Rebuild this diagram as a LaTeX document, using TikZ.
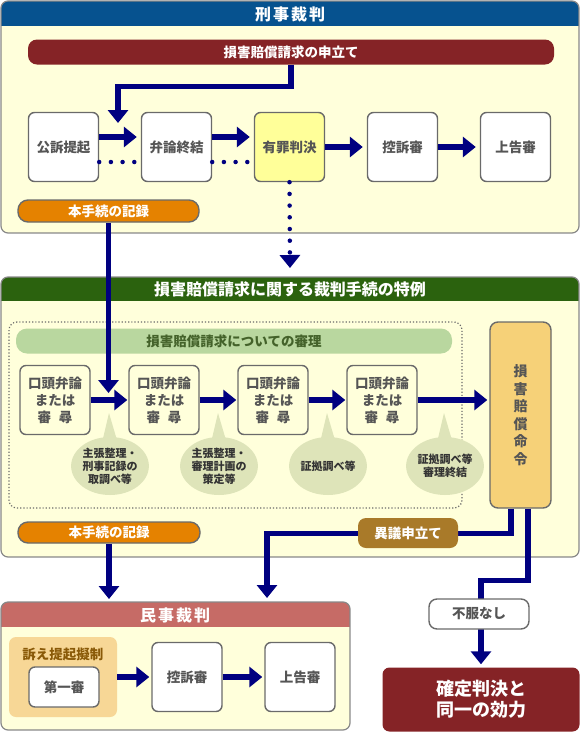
\documentclass[tikz,border=0pt]{standalone}
\usepackage{fontspec}
\setmainfont{Noto Sans CJK JP}
\usepackage{xcolor}
\usetikzlibrary{arrows.meta,positioning,shapes.geometric,calc}

\definecolor{keijiblue}{HTML}{06528F}
\definecolor{claimred}{HTML}{852326}
\definecolor{recordorange}{HTML}{E58200}
\definecolor{tokureigreen}{HTML}{2B620E}
\definecolor{shinrigreen}{HTML}{B9D79F}
\definecolor{shinritext}{HTML}{44622A}
\definecolor{panelyellow}{HTML}{FFFFDB}
\definecolor{verdictyellow}{HTML}{FFFF99}
\definecolor{orderbox}{HTML}{F6D178}
\definecolor{bubblefill}{HTML}{DEE4B9}
\definecolor{igibrown}{HTML}{A97A29}
\definecolor{minjired}{HTML}{C66B66}
\definecolor{giseifill}{HTML}{F7D796}
\definecolor{giseitext}{HTML}{8A5A08}
\definecolor{flownavy}{HTML}{000080}
\definecolor{boxgray}{HTML}{6A6A6A}
\definecolor{textgray}{HTML}{555555}

\begin{document}
\begin{tikzpicture}[x=1pt,y=-1pt,
  font=\bfseries\fontsize{13.5}{16}\selectfont,
  stage/.style={draw=boxgray,line width=1.4pt,rounded corners=6pt,fill=white,
    minimum width=70pt,minimum height=69pt,inner sep=0pt,text=textgray},
  hearing/.style={stage,fill=panelyellow,align=center,
    font=\bfseries\fontsize{13.5}{17}\selectfont},
  pill/.style={rounded corners=9pt,text=white,inner sep=0pt},
  header/.style={text=white,font=\bfseries\fontsize{16}{18}\selectfont},
  flow/.style={draw=flownavy,line width=5.5pt,-{Triangle[length=13pt,width=20pt]}},
  dots/.style={draw=flownavy,line width=4.5pt,line cap=round,dash pattern=on 0pt off 11.7pt},
  bubble/.style={ellipse,fill=bubblefill,minimum width=77pt,minimum height=58pt,
    inner sep=0pt,align=center,text=black!80,font=\bfseries\fontsize{11}{13}\selectfont},
  panelline/.style={draw=boxgray!80,line width=1.2pt,rounded corners=7pt}]

  \useasboundingbox (0,0) rectangle (580,732);

  % panels
  \begin{scope}
    \clip[rounded corners=7pt] (1,1) rectangle (579,233);
    \fill[panelyellow] (1,1) rectangle (579,233);
    \fill[keijiblue] (1,1) rectangle (579,26);
  \end{scope}
  \draw[panelline] (1,1) rectangle (579,233);
  \begin{scope}
    \clip[rounded corners=7pt] (1,277) rectangle (579,557);
    \fill[panelyellow] (1,277) rectangle (579,557);
    \fill[tokureigreen] (1,277) rectangle (579,301);
  \end{scope}
  \draw[panelline] (1,277) rectangle (579,557);
  \begin{scope}
    \clip[rounded corners=7pt] (1,602) rectangle (350,730);
    \fill[panelyellow] (1,602) rectangle (350,730);
    \fill[minjired] (1,602) rectangle (350,627);
  \end{scope}
  \draw[panelline] (1,602) rectangle (350,730);

  \node[header] (keiji) at (290,14) {刑\hspace{2pt}事\hspace{2pt}裁\hspace{2pt}判};
  \node[header] (tokurei) at (290,289) {損害賠償請求に関する裁判手続の特例};
  \node[header] (minji) at (175,615) {民\hspace{2pt}事\hspace{2pt}裁\hspace{2pt}判};

  % criminal trial
  \node[pill,fill=claimred,minimum width=526pt,minimum height=25pt] (claim) at (291,52) {損害賠償請求の申立て};
  \node[stage] (teiki) at (63.5,147) {公訴提起};
  \node[stage,right=41.6pt of teiki] (benron) {弁論終結};
  \node[stage,fill=verdictyellow,right=41.6pt of benron] (yuzai) {有罪判決};
  \node[stage,right=41.6pt of yuzai] (kouso) {控訴審};
  \node[stage,right=41.6pt of kouso] (joukoku) {上告審};
  \node[pill,draw=boxgray,line width=1.4pt,fill=recordorange,rounded corners=10pt,
    minimum width=181pt,minimum height=22pt] (kiroku1) at (108.5,211) {本手続の記録};

  % special procedure
  \draw[draw=boxgray,line width=1.2pt,dotted,rounded corners=8pt] (9,322) rectangle (462,508);
  \node[pill,fill=shinrigreen,text=shinritext,rounded corners=11pt,
    minimum width=436pt,minimum height=25pt] (shinri) at (234,341) {損害賠償請求についての審理};
  \node[hearing] (k1) at (55,400) {口頭弁論\\または\\審\hspace{8pt}尋};
  \node[hearing,right=37.6pt of k1] (k2) {口頭弁論\\または\\審\hspace{8pt}尋};
  \node[hearing,right=37.6pt of k2] (k3) {口頭弁論\\または\\審\hspace{8pt}尋};
  \node[hearing,right=37.6pt of k3] (k4) {口頭弁論\\または\\審\hspace{8pt}尋};
  \node[draw=boxgray,line width=1.4pt,rounded corners=8pt,fill=orderbox,text=textgray,
    minimum width=61pt,minimum height=186pt,align=center,
    font=\bfseries\fontsize{14}{17.5}\selectfont] (meirei) at (520.5,415) {損\\害\\賠\\償\\命\\令};

  % bubbles with tails
  \foreach \bx/\tx in {110/109,219/218,328/327,445/444}
    \fill[bubblefill] (\bx-9,447) -- (\tx,413) -- (\bx+9,447) -- cycle;
  \node[bubble] (b1) at (110,466) {主張整理・\\刑事記録の\\取調べ等};
  \node[bubble] (b2) at (219,466) {主張整理・\\審理計画の\\策定等};
  \node[bubble] (b3) at (328,466) {証拠調べ等};
  \node[bubble] (b4) at (445,466) {証拠調べ等\\審理終結};

  \node[pill,draw=boxgray,line width=1.4pt,fill=recordorange,rounded corners=10pt,
    minimum width=182pt,minimum height=21pt] (kiroku2) at (109,532.5) {本手続の記録};

  % civil trial
  \node[fill=giseifill,rounded corners=7pt,minimum width=108pt,minimum height=80pt] (gisei) at (63,677) {};
  \node[text=giseitext] (giseilabel) at (63,654) {訴え提起擬制};
  \node[stage,minimum height=40pt] (daiichi) at (64,687) {第一審};
  \node[stage] (kouso2) at (187,677) {控訴審};
  \node[stage,right=41.6pt of kouso2] (joukoku2) {上告審};

  \node[fill=claimred,rounded corners=7pt,text=white,align=center,inner sep=0pt,
    minimum width=197pt,minimum height=64pt,
    font=\bfseries\fontsize{18}{21}\selectfont] (kakutei) at (481,699.5) {確定判決と\\同一の効力};

  % free ends
  \coordinate (t1) at (118,123);
  \coordinate (t2) at (108.5,393);
  \coordinate (t3) at (267,598);
  \coordinate (t5) at (109,599);
  \coordinate (t6) at (290,268);

  % connectors
  \draw[flow] (claim.south) -- ++(0,22) -| (t1);
  \draw[flow,shorten >=4pt] ([yshift=10pt]teiki.east) -- ([yshift=10pt]benron.west);
  \draw[flow,shorten >=4pt] ([yshift=10pt]benron.east) -- ([yshift=10pt]yuzai.west);
  \draw[flow,shorten >=4pt] (yuzai.east) -- (kouso.west);
  \draw[flow,shorten >=4pt] (kouso.east) -- (joukoku.west);
  \draw[dots] ([yshift=-15pt]teiki.east) -- ([yshift=-15pt]benron.west);
  \draw[dots] ([yshift=-15pt]benron.east) -- ([yshift=-15pt]yuzai.west);
  \draw[dots,-{Triangle[length=13pt,width=20pt]}] (yuzai.south) -- (t6);
  \draw[flow] (kiroku1.south) -- (t2);

  \draw[flow,shorten >=1pt] (k1.east) -- (k2.west);
  \draw[flow,shorten >=1pt] (k2.east) -- (k3.west);
  \draw[flow,shorten >=1pt] (k3.east) -- (k4.west);
  \draw[flow,shorten >=2pt] (k4.east) -- (k4.east -| meirei.west);

  \draw[flow] ([xshift=-9.5pt]meirei.south) -- ++(0,25) -| (t3);
  \draw[flow] ([xshift=7.5pt]meirei.south) -- ++(0,72) -| ([yshift=3pt]kakutei.north);
  \draw[flow] (kiroku2.south) -- (t5);

  \draw[flow,shorten >=2pt] (gisei.east) -- (kouso2.west);
  \draw[flow,shorten >=2pt] (kouso2.east) -- (joukoku2.west);

  % labels on the lines
  \node[pill,fill=igibrown,rounded corners=8pt,minimum width=100pt,minimum height=30pt] (igi) at (408,533) {異議申立て};
  \node[draw=boxgray,line width=1.4pt,fill=white,rounded corners=8pt,text=textgray,
    minimum width=100pt,minimum height=30pt,inner sep=0pt] (fufuku) at (479,614) {不服なし};
\end{tikzpicture}
\end{document}
